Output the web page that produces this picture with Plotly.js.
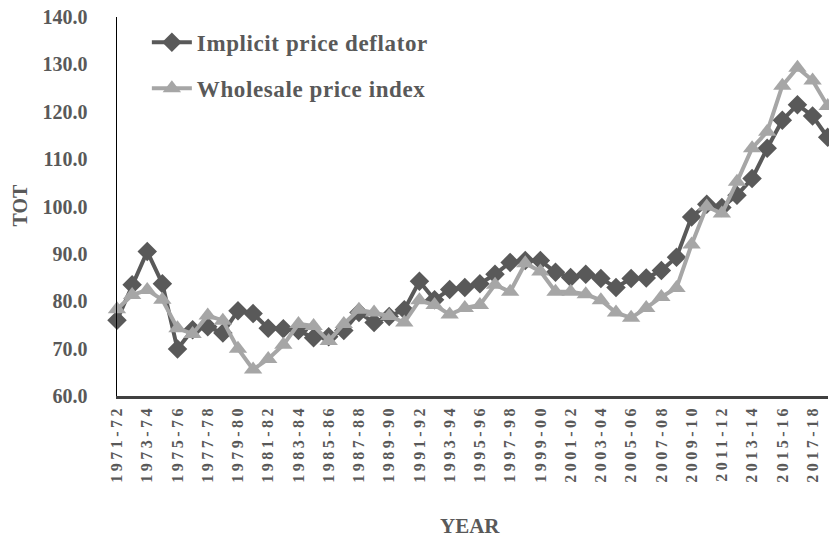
<!DOCTYPE html>
<html>
<head>
<meta charset="utf-8">
<script src="https://cdn.plot.ly/plotly-3.0.1.min.js"></script>
<style>
html,body{margin:0;padding:0;background:#fff;}
#chart{width:829px;height:539px;}
</style>
</head>
<body>
<div id="chart"></div>
<script>
var years = ["1971-72","1972-73","1973-74","1974-75","1975-76","1976-77","1977-78","1978-79","1979-80","1980-81",
"1981-82","1982-83","1983-84","1984-85","1985-86","1986-87","1987-88","1988-89","1989-90","1990-91",
"1991-92","1992-93","1993-94","1994-95","1995-96","1996-97","1997-98","1998-99","1999-00","2000-01",
"2001-02","2002-03","2003-04","2004-05","2005-06","2006-07","2007-08","2008-09","2009-10","2010-11",
"2011-12","2012-13","2013-14","2014-15","2015-16","2016-17","2017-18","2018-19"];

var implicitPriceDeflator = [76.0, 83.5, 90.5, 83.7, 69.9, 74.0, 74.6, 73.3, 78.0, 77.4,
74.3, 74.2, 73.8, 72.3, 72.5, 73.8, 77.6, 75.5, 76.8, 78.2,
84.2, 80.3, 82.5, 82.9, 83.7, 85.7, 88.2, 88.6, 88.6, 86.1,
85.0, 85.7, 84.8, 82.9, 84.8, 84.9, 86.5, 89.3, 97.8, 100.5,
99.8, 102.4, 105.9, 112.3, 118.2, 121.5, 119.1, 114.6];

var wholesalePriceIndex = [78.3, 81.3, 82.4, 80.3, 74.3, 73.1, 77.0, 75.9, 70.0, 65.6,
67.8, 70.8, 75.2, 74.8, 71.6, 75.2, 78.2, 77.6, 76.9, 75.5,
80.2, 79.2, 77.2, 78.6, 79.2, 83.5, 82.0, 88.0, 86.3, 82.0,
82.0, 81.5, 80.2, 77.6, 76.5, 78.6, 80.9, 82.8, 92.0, 100.0,
98.5, 105.2, 112.3, 115.8, 125.5, 129.3, 126.6, 121.2];

var tickLabels = years.filter(function(y, i){ return i % 2 === 0; });
var yTicks = [60,70,80,90,100,110,120,130,140];
var yTickText = yTicks.map(function(v){ return v.toFixed(1); });

var FONT = "Liberation Serif, Times New Roman, serif";
var TXT = "#595959";

var traces = [
  {
    x: years, y: implicitPriceDeflator, name: "Implicit price deflator",
    type: "scatter", mode: "lines+markers", legendgroup: "a", cliponaxis: false,
    line: {color: "#595959", width: 4},
    marker: {symbol: "diamond", size: 15, color: "#595959"}
  },
  {
    x: years, y: wholesalePriceIndex, name: "Wholesale price index",
    type: "scatter", mode: "lines+markers", legendgroup: "b", cliponaxis: false,
    line: {color: "#A6A6A6", width: 4},
    marker: {symbol: "triangle-up", size: 16, color: "#A6A6A6"}
  }
];

var layout = {
  width: 829, height: 539,
  margin: {l: 117, r: 1, t: 17, b: 143},
  paper_bgcolor: "#fff", plot_bgcolor: "#fff",
  showlegend: true,
  legend: {
    x: 0.042, y: 0.99, xanchor: "left", yanchor: "top",
    font: {family: FONT, size: 23, color: TXT, weight: "bold"},
    traceorder: "grouped", tracegroupgap: 13,
    bgcolor: "rgba(0,0,0,0)", itemwidth: 40
  },
  xaxis: {
    type: "category",
    range: [0, 47.02],
    tickmode: "array", tickvals: tickLabels, ticktext: tickLabels,
    tickangle: -90,
    tickfont: {family: FONT, size: 16, color: TXT, weight: "bold"},
    showgrid: false, zeroline: false,
    showline: true, linecolor: "#404040", linewidth: 2.5,
    ticks: "", ticklabelstandoff: 0
  },
  yaxis: {
    range: [60, 140],
    tickmode: "array", tickvals: yTicks, ticktext: yTickText,
    tickfont: {family: FONT, size: 20, color: TXT, weight: "bold"},
    showgrid: false, zeroline: false,
    showline: true, linecolor: "#000", linewidth: 1.5,
    ticks: "", ticklabelstandoff: 24
  },
  annotations: [
    {text: "TOT", xref: "paper", yref: "paper", x: -0.137, y: 0.504, xanchor: "center", yanchor: "middle",
     textangle: -90, showarrow: false, font: {family: FONT, size: 20, color: TXT, weight: "bold"}},
    {text: "YEAR", xref: "paper", yref: "paper", x: 0.496, y: -0.343, xanchor: "center", yanchor: "middle",
     showarrow: false, font: {family: FONT, size: 21, color: TXT, weight: "bold"}}
  ]
};

Plotly.newPlot("chart", traces, layout, {displayModeBar: false, staticPlot: true}).then(function(gd){
  gd.querySelectorAll(".xtick text").forEach(function(t){ t.style.letterSpacing = "3.5px"; });
  gd.querySelectorAll(".legend [clip-path]").forEach(function(el){ el.removeAttribute("clip-path"); });
  gd.querySelectorAll(".legendtext").forEach(function(t){ t.style.letterSpacing = "0.6px"; });
});
</script>
</body>
</html>
